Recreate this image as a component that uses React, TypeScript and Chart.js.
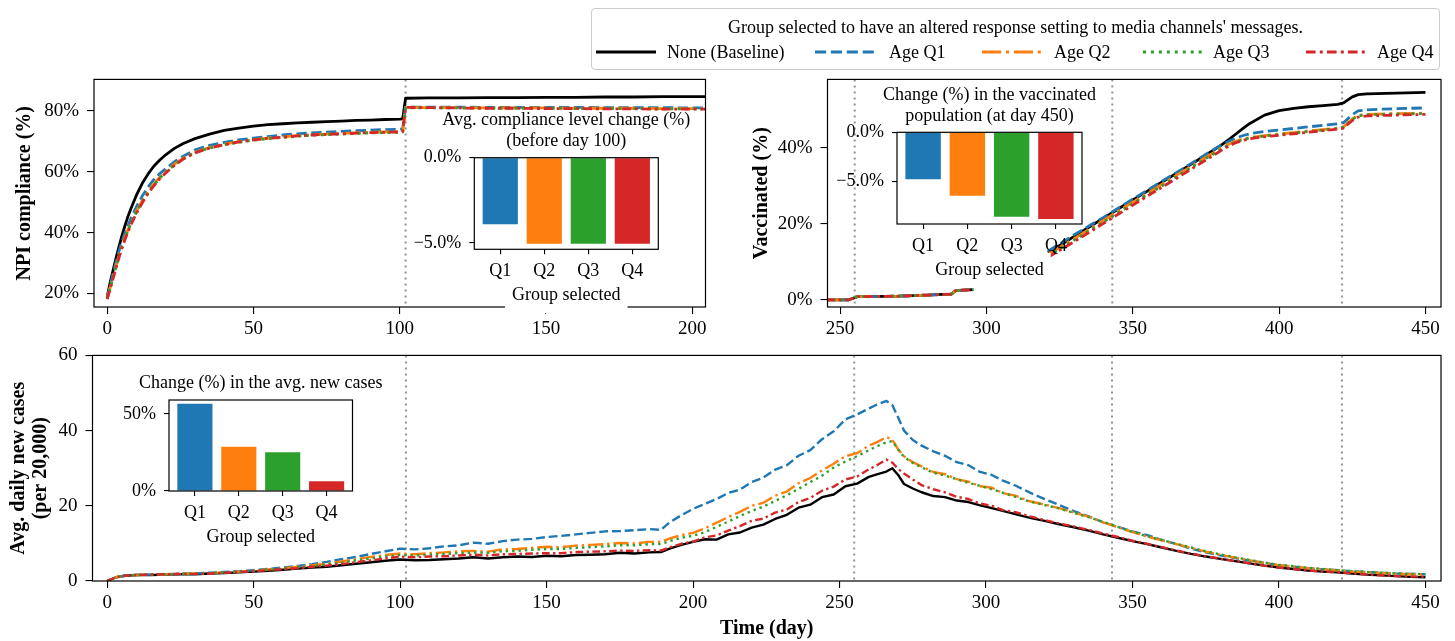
import React, { useEffect, useRef } from "react";
import { Chart, registerables } from "chart.js";

Chart.register(...registerables);

const FONT = '"Liberation Serif", "Times New Roman", Times, serif';
Chart.defaults.font.family = FONT;
Chart.defaults.color = "#000";

// ---------------- data ----------------
const SERIES_LABELS = ["None (Baseline)", "Age Q1", "Age Q2", "Age Q3", "Age Q4"];
const SERIES_COLORS = ["#000000", "#1f77b4", "#ff7f0e", "#2ca02c", "#d62728"];
const LEGEND_TITLE = "Group selected to have an altered response setting to media channels' messages.";
const PHASE_DAYS = [102, 255, 343, 421.5];

// NPI compliance (%)
const npiDays = [0, 1, 2, 3, 4, 5, 6, 7, 8, 10, 12, 14, 16, 18, 20, 23, 26, 30, 35, 40, 45, 50, 55, 60, 65, 70, 75, 80, 85, 90, 95, 100, 101, 102, 110, 120, 130, 140, 150, 160, 170, 180, 190, 200, 205];
const npiBaseline = [18.8, 23.5, 27.5, 31.5, 35.2, 38.8, 42.0, 45.0, 47.6, 52.3, 56.2, 59.3, 61.9, 63.9, 65.6, 67.7, 69.3, 70.9, 72.4, 73.6, 74.4, 75.0, 75.5, 75.8, 76.1, 76.3, 76.5, 76.7, 76.9, 77.0, 77.2, 77.3, 77.4, 84.2, 84.3, 84.3, 84.4, 84.4, 84.5, 84.5, 84.6, 84.6, 84.7, 84.7, 84.7];
const npiQ1 = [18.6, 22.5, 26.4, 30.2, 33.8, 36.9, 39.6, 42.1, 44.4, 48.5, 52.0, 55.0, 57.5, 59.4, 61.0, 63.3, 65.1, 67.2, 68.7, 69.7, 70.5, 71.1, 71.6, 72.1, 72.5, 72.8, 73.0, 73.3, 73.5, 73.7, 73.9, 74.0, 74.1, 81.3, 81.3, 81.3, 81.2, 81.2, 81.2, 81.2, 81.1, 81.1, 81.1, 81.0, 81.0];
const npiQ2 = [18.3, 21.8, 25.4, 28.9, 32.3, 35.4, 38.1, 40.7, 43.0, 47.0, 50.5, 53.5, 56.0, 58.2, 60.0, 62.5, 64.5, 66.5, 68.0, 69.1, 69.9, 70.6, 71.1, 71.5, 71.9, 72.2, 72.4, 72.6, 72.8, 73.0, 73.1, 73.2, 73.3, 81.2, 81.1, 81.1, 81.0, 81.0, 81.0, 80.9, 80.9, 80.9, 80.8, 80.8, 80.8];
const npiQ3 = [18.2, 21.6, 25.1, 28.6, 32.0, 35.1, 37.8, 40.4, 42.7, 46.7, 50.2, 53.2, 55.7, 57.9, 59.8, 62.3, 64.3, 66.3, 67.8, 68.9, 69.7, 70.4, 70.9, 71.3, 71.7, 72.0, 72.2, 72.4, 72.6, 72.8, 72.9, 73.0, 73.1, 81.0, 81.0, 81.0, 80.9, 80.9, 80.9, 80.8, 80.8, 80.8, 80.7, 80.7, 80.7];
const npiQ4 = [18.1, 21.3, 24.8, 28.2, 31.6, 34.7, 37.4, 40.0, 42.3, 46.3, 49.8, 52.9, 55.4, 57.7, 59.6, 62.1, 64.2, 66.2, 67.8, 68.9, 69.8, 70.5, 71.0, 71.4, 71.8, 72.1, 72.3, 72.5, 72.7, 72.9, 73.0, 73.1, 73.2, 81.2, 81.1, 81.0, 80.9, 80.9, 80.8, 80.8, 80.7, 80.7, 80.6, 80.6, 80.6];

// Vaccinated (%) - the stretch hidden behind the inset is left empty (null)
const vacDays = [245, 253, 254.5, 256, 260, 265, 270, 275, 280, 285, 288, 289.5, 292, 295.5, 308, 321, 325, 330, 335, 340, 345, 350, 355, 360, 365, 370, 375, 380, 383, 385, 388, 390, 395, 400, 405, 410, 415, 420, 422, 425, 427, 430, 440, 450];
const vacBaseline = [0, 0, 0.4, 0.85, 0.85, 0.9, 0.95, 1.1, 1.25, 1.4, 1.5, 2.4, 2.55, 2.65, null, 12.4, 14.3, 16.7, 19.1, 21.5, 23.9, 26.3, 28.6, 31.0, 33.3, 35.7, 38.1, 40.6, 42.3, 43.5, 45.3, 46.4, 48.6, 49.8, 50.4, 50.8, 51.1, 51.4, 51.8, 53.4, 54.0, 54.2, 54.4, 54.6];
const vacQ1 = [0, 0, 0.4, 0.85, 0.85, 0.9, 0.95, 1.1, 1.25, 1.4, 1.5, 2.4, 2.55, 2.65, null, 12.8, 14.7, 17.1, 19.4, 21.7, 24.1, 26.5, 28.8, 31.2, 33.5, 35.9, 38.3, 40.6, 41.8, 42.5, 43.3, 43.7, 44.3, 44.7, 45.1, 45.5, 45.9, 46.3, 46.6, 48.7, 49.7, 50.0, 50.3, 50.5];
const vacQ2 = [0, 0, 0.4, 0.85, 0.85, 0.9, 0.95, 1.1, 1.25, 1.4, 1.5, 2.4, 2.55, 2.65, null, 11.9, 13.8, 16.1, 18.5, 20.9, 23.3, 25.7, 28.0, 30.4, 32.8, 35.1, 37.5, 39.8, 41.0, 41.7, 42.4, 42.7, 43.2, 43.6, 44.0, 44.4, 44.8, 45.2, 45.5, 47.6, 48.5, 48.8, 49.0, 49.1];
const vacQ3 = [0, 0, 0.4, 0.85, 0.85, 0.9, 0.95, 1.1, 1.25, 1.4, 1.5, 2.4, 2.55, 2.65, null, 11.6, 13.4, 15.7, 18.1, 20.5, 22.9, 25.3, 27.7, 30.0, 32.4, 34.8, 37.2, 39.5, 40.8, 41.5, 42.2, 42.6, 43.1, 43.5, 43.9, 44.3, 44.7, 45.1, 45.4, 47.5, 48.4, 48.7, 48.9, 49.0];
const vacQ4 = [0, 0, 0.4, 0.85, 0.85, 0.9, 0.95, 1.1, 1.25, 1.4, 1.5, 2.4, 2.55, 2.65, null, 11.2, 13.0, 15.3, 17.7, 20.1, 22.5, 24.9, 27.3, 29.6, 32.0, 34.4, 36.8, 39.2, 40.5, 41.3, 42.0, 42.4, 42.9, 43.3, 43.7, 44.1, 44.5, 44.9, 45.2, 47.2, 48.1, 48.4, 48.6, 48.8];

// Avg. daily new cases (per 20,000)
const caseDays = [0, 3, 6, 10, 15, 20, 25, 30, 35, 40, 45, 50, 55, 60, 65, 70, 75, 80, 85, 90, 95, 100, 105, 110, 115, 120, 125, 130, 135, 140, 145, 150, 155, 160, 165, 170, 175, 180, 185,
  189, 192, 196,
  200, 204, 208, 212, 216, 220, 224, 228, 232, 236, 240, 244, 248, 252, 256, 260,
  263, 266, 268, 270, 272, 275, 278,
  282, 286, 290, 294, 298, 302, 306, 310,
  315, 320, 325, 330, 335, 340, 345, 350, 355, 360, 365, 370, 375, 380, 385, 390, 395, 400, 405, 410, 415, 420, 425, 430, 435, 440, 445, 450];
const caseBaseline = [0, 1.0, 1.4, 1.6, 1.6, 1.7, 1.8, 1.8, 2.0, 2.1, 2.3, 2.5, 2.7, 3.0, 3.3, 3.6, 3.8, 4.2, 4.6, 5.0, 5.4, 5.7, 5.5, 5.6, 5.8, 6.0, 6.3, 6.0, 6.3, 6.5, 6.4, 6.7, 6.6, 6.9, 7.0, 7.1, 7.5, 7.3, 7.6,
  7.7, 8.6, 9.6,
  10.4, 11.1, 11.0, 12.4, 12.9, 14.2, 15.0, 16.5, 17.6, 19.5, 20.3, 22.3, 23.0, 25.2, 25.9, 27.7,
  28.4, 29.1, 30.0, 28.2, 25.8, 24.6, 23.6,
  22.6, 22.3, 21.4, 21.0, 20.1, 19.4, 18.6, 17.8,
  16.8, 16.0, 15.1, 14.3, 13.4, 12.4, 11.5, 10.6, 9.8, 8.9, 8.0, 7.2, 6.5, 5.9, 5.3, 4.7, 4.1, 3.6, 3.2, 2.8, 2.5, 2.3, 2.0, 1.7, 1.5, 1.3, 1.1, 1.0];
const caseQ1 = [0, 1.0, 1.4, 1.6, 1.7, 1.8, 1.9, 2.0, 2.2, 2.4, 2.6, 2.9, 3.2, 3.6, 4.0, 4.5, 5.1, 5.8, 6.4, 7.2, 7.9, 8.6, 8.4, 8.7, 9.2, 9.5, 10.2, 9.9, 10.6, 11.0, 11.2, 11.7, 12.0, 12.4, 12.8, 13.2, 13.3, 13.5, 13.8,
  13.6, 15.6, 17.5,
  19.2, 20.5, 21.8, 23.4, 24.3, 26.3, 27.5, 29.6, 30.8, 33.3, 34.8, 37.7, 39.8, 43.0, 44.3, 45.9,
  47.0, 47.9, 46.8, 43.5, 40.0, 37.5, 36.0,
  34.5, 33.3, 31.6, 30.8, 29.0, 28.2, 26.6, 25.4,
  23.5, 21.8, 20.2, 18.6, 17.2, 15.6, 14.4, 13.2, 12.2, 10.9, 9.8, 8.6, 7.6, 6.8, 6.1, 5.4, 4.8, 4.2, 3.8, 3.4, 3.1, 2.9, 2.6, 2.4, 2.2, 2.0, 1.9, 1.8];
const caseQ2 = [0, 1.0, 1.4, 1.6, 1.7, 1.8, 1.9, 2.0, 2.1, 2.3, 2.5, 2.8, 3.1, 3.4, 3.8, 4.2, 4.6, 5.2, 5.8, 6.4, 6.9, 7.3, 7.1, 7.4, 7.6, 7.9, 8.0, 7.8, 8.4, 8.5, 8.8, 9.1, 9.0, 9.4, 9.6, 9.8, 10.1, 10.0, 10.4,
  10.4, 11.3, 12.2,
  12.8, 14.0, 15.5, 17.0, 18.4, 20.0, 20.8, 22.7, 23.8, 26.0, 27.4, 29.4, 31.2, 33.2, 34.0, 36.0,
  37.0, 38.3, 37.6, 35.0, 33.2, 31.6, 30.5,
  29.0, 28.4, 27.1, 26.4, 25.2, 24.8, 23.3, 22.7,
  21.2, 20.3, 19.4, 18.2, 17.1, 15.6, 14.3, 13.0, 11.8, 10.8, 9.8, 8.8, 7.8, 7.0, 6.2, 5.5, 4.8, 4.2, 3.8, 3.4, 3.1, 2.8, 2.5, 2.3, 2.1, 1.9, 1.8, 1.7];
const caseQ3 = [0, 1.0, 1.4, 1.6, 1.7, 1.8, 1.9, 2.0, 2.1, 2.3, 2.5, 2.7, 3.0, 3.3, 3.6, 4.0, 4.4, 4.9, 5.5, 6.0, 6.5, 6.9, 6.8, 7.0, 7.2, 7.4, 7.6, 7.5, 7.9, 8.0, 8.3, 8.5, 8.5, 8.8, 9.0, 9.2, 9.5, 9.5, 9.8,
  9.8, 10.6, 11.5,
  12.0, 13.0, 14.4, 15.8, 17.3, 18.6, 19.8, 21.3, 22.8, 24.5, 26.3, 28.0, 30.2, 31.8, 33.2, 34.8,
  35.9, 36.9, 37.2, 35.0, 33.0, 31.4, 30.2,
  28.8, 28.0, 27.1, 26.1, 25.3, 24.4, 23.4, 22.4,
  21.1, 20.2, 19.3, 18.1, 17.0, 15.7, 14.4, 13.1, 11.9, 10.9, 9.9, 8.9, 7.9, 7.1, 6.3, 5.6, 4.9, 4.3, 3.9, 3.5, 3.2, 2.9, 2.6, 2.4, 2.2, 2.0, 1.9, 1.8];
const caseQ4 = [0, 1.0, 1.4, 1.6, 1.7, 1.8, 1.9, 1.9, 2.0, 2.2, 2.4, 2.6, 2.9, 3.1, 3.4, 3.8, 4.1, 4.5, 5.0, 5.5, 6.0, 6.5, 6.3, 6.5, 6.6, 6.8, 7.0, 6.8, 7.1, 7.2, 7.3, 7.4, 7.4, 7.7, 7.8, 7.9, 8.1, 8.0, 8.2,
  8.1, 8.9, 9.9,
  10.5, 11.6, 12.1, 13.4, 14.6, 16.0, 16.6, 18.2, 19.0, 21.0, 22.1, 24.0, 25.1, 27.0, 27.8, 29.7,
  30.9, 32.3, 31.5, 29.8, 28.6, 27.0, 25.5,
  24.4, 23.6, 22.4, 21.8, 20.6, 20.0, 18.8, 18.3,
  17.2, 16.2, 15.3, 14.5, 13.6, 12.6, 11.7, 10.7, 9.9, 9.0, 8.1, 7.3, 6.6, 5.9, 5.3, 4.7, 4.1, 3.6, 3.2, 2.8, 2.5, 2.3, 2.0, 1.7, 1.5, 1.3, 1.2, 1.1];

// inset bars
const INSET_CATS = ["Q1", "Q2", "Q3", "Q4"];
const INSET_COLORS = ["#1f77b4", "#ff7f0e", "#2ca02c", "#d62728"];
const complianceChange = [-3.9, -5.05, -5.05, -5.05];
const vaccinatedChange = [-4.76, -6.42, -8.54, -8.77];
const casesChange = [56.6, 28.8, 25.1, 6.3];

const npiXTicks = [0, 50, 100, 150, 200];
const npiYTicks = [20, 40, 60, 80];
const vacXTicks = [250, 300, 350, 400, 450];
const vacYTicks = [0, 20, 40];
const caseXTicks = [0, 50, 100, 150, 200, 250, 300, 350, 400, 450];
const caseYTicks = [0, 20, 40, 60];

// ---------------- styles ----------------
const DASHES = [[], [3.7, 1.6], [6.4, 1.6, 1, 1.6], [1, 1.65], [3.2, 1.4, 1, 1.4]];
const MINUS = "\u2212";
const pct = (v: number) => `${v}%`;
const pct1 = (v: number) => `${v < 0 ? MINUS : ""}${Math.abs(v).toFixed(1)}%`;

const framePlugin = {
  id: "frame",
  afterDatasetsDraw(chart: any) {
    const { ctx, chartArea: a } = chart;
    ctx.save();
    ctx.strokeStyle = "#000";
    ctx.lineWidth = 1.2;
    ctx.strokeRect(a.left, a.top, a.right - a.left, a.bottom - a.top);
    ctx.restore();
  },
};

function phasePlugin(days: number[]) {
  return {
    id: "phaseLines",
    beforeDatasetsDraw(chart: any) {
      const { ctx, chartArea: a, scales } = chart;
      const xs = scales.x;
      ctx.save();
      ctx.strokeStyle = "rgba(135,135,135,0.9)";
      ctx.lineWidth = 2;
      ctx.setLineDash([2, 4]);
      days.forEach((d) => {
        if (d < xs.min || d > xs.max) return;
        const px = xs.getPixelForValue(d);
        ctx.beginPath();
        ctx.moveTo(px, a.top);
        ctx.lineTo(px, a.bottom);
        ctx.stroke();
      });
      ctx.restore();
    },
  };
}

const tickGrid = (len: number) => ({
  display: true,
  drawOnChartArea: false,
  drawTicks: true,
  tickLength: len,
  color: "#000",
  lineWidth: 1.1,
});

function LinePanel(p: any) {
  const ref = useRef<HTMLCanvasElement>(null);
  useEffect(() => {
    const c = ref.current as HTMLCanvasElement;
    const yWidth = p.plot.left - p.canvas.left;
    const xHeight = p.canvas.top + p.canvas.height - p.plot.bottom;
    const padTop = p.plot.top - p.canvas.top;
    const padRight = p.canvas.left + p.canvas.width - p.plot.right;
    const chart = new Chart(c, {
      type: "line",
      data: {
        datasets: SERIES_LABELS.map((label, i) => ({
          label,
          data: p.xs.map((x: number, j: number) => ({ x, y: p.series[i][j] })),
          borderColor: SERIES_COLORS[i],
          backgroundColor: SERIES_COLORS[i],
          borderWidth: p.lw,
          borderDash: DASHES[i].map((d) => d * p.lw),
          borderCapStyle: "butt",
          borderJoinStyle: "round",
          pointRadius: 0,
          tension: 0,
          fill: false,
          spanGaps: false,
          clip: 0,
          order: 4 - i,
        })),
      },
      options: {
        animation: false,
        responsive: false,
        events: [],
        layout: { padding: { left: 0, top: padTop, right: padRight, bottom: 0 } },
        plugins: { legend: { display: false }, tooltip: { enabled: false } },
        scales: {
          x: {
            type: "linear",
            min: p.xMin,
            max: p.xMax,
            afterBuildTicks: (s: any) => {
              s.ticks = p.xTicks.map((v: number) => ({ value: v }));
            },
            afterFit: (s: any) => {
              s.height = xHeight;
            },
            grid: tickGrid(7),
            border: { display: false },
            ticks: {
              autoSkip: false,
              maxRotation: 0,
              padding: 4,
              color: "#000",
              font: { family: FONT, size: 19 },
              callback: (v: any) => String(v),
            },
            title: p.xTitle
              ? {
                  display: true,
                  text: p.xTitle,
                  color: "#000",
                  font: { family: FONT, size: 20, weight: "bold", lineHeight: 1.2 },
                  padding: { top: 0, bottom: 0 },
                }
              : { display: false },
          },
          y: {
            type: "linear",
            min: p.yMin,
            max: p.yMax,
            afterBuildTicks: (s: any) => {
              s.ticks = p.yTicks.map((v: number) => ({ value: v }));
            },
            afterFit: (s: any) => {
              s.width = yWidth;
            },
            grid: tickGrid(7),
            border: { display: false },
            ticks: {
              autoSkip: false,
              padding: 8,
              color: "#000",
              font: { family: FONT, size: 19 },
              callback: (v: any) => p.yFmt(v),
            },
            title: {
              display: true,
              text: p.yTitle,
              color: "#000",
              font: { family: FONT, size: 20, weight: "bold", lineHeight: p.yTitleLH },
              padding: { top: p.yTitlePad, bottom: 0 },
            },
          },
        },
      } as any,
      plugins: [phasePlugin(PHASE_DAYS), framePlugin],
    } as any);
    return () => chart.destroy();
  }, []);
  return (
    <canvas
      ref={ref}
      width={p.canvas.width}
      height={p.canvas.height}
      style={{ position: "absolute", left: p.canvas.left, top: p.canvas.top, width: p.canvas.width, height: p.canvas.height }}
    />
  );
}

function insetPlugin(titleLines: string[], xlabel: string) {
  return {
    id: "insetDeco",
    beforeDraw(chart: any) {
      const { ctx, chartArea: a } = chart;
      ctx.save();
      ctx.fillStyle = "#fff";
      ctx.fillRect(a.left, a.top, a.right - a.left, a.bottom - a.top);
      ctx.font = `18px ${FONT}`;
      const w = ctx.measureText(xlabel).width;
      const cx = (a.left + a.right) / 2;
      const cy = a.bottom + 46;
      ctx.fillRect(cx - w / 2 - 7, cy - 17, w + 14, 35);
      ctx.restore();
    },
    afterDraw(chart: any) {
      const { ctx, chartArea: a } = chart;
      ctx.save();
      ctx.strokeStyle = "#000";
      ctx.lineWidth = 1.2;
      ctx.strokeRect(a.left, a.top, a.right - a.left, a.bottom - a.top);
      ctx.fillStyle = "#000";
      ctx.font = `18px ${FONT}`;
      ctx.textAlign = "center";
      ctx.textBaseline = "middle";
      const cx = (a.left + a.right) / 2;
      const n = titleLines.length;
      titleLines.forEach((t, i) => {
        ctx.fillText(t, cx, a.top - 16.5 - (n - 1 - i) * 20.5);
      });
      ctx.fillText(xlabel, cx, a.bottom + 46);
      ctx.restore();
    },
  };
}

function InsetBars(p: any) {
  const ref = useRef<HTMLCanvasElement>(null);
  const cl = Math.floor(p.box.left) - 85;
  const ct = Math.floor(p.box.top) - 60;
  const cw = Math.ceil(p.box.right) + 60 - cl;
  const ch = Math.ceil(p.box.bottom) + 75 - ct;
  useEffect(() => {
    const c = ref.current as HTMLCanvasElement;
    const yWidth = p.box.left - cl;
    const padTop = p.box.top - ct;
    const padRight = cl + cw - p.box.right;
    const xHeight = ct + ch - p.box.bottom;
    const chart = new Chart(c, {
      type: "bar",
      data: {
        datasets: [
          {
            data: p.values.map((v: number, i: number) => ({ x: i, y: v })),
            backgroundColor: INSET_COLORS,
            borderWidth: 0,
            barPercentage: 0.8,
            categoryPercentage: 1,
          },
        ],
      },
      options: {
        animation: false,
        responsive: false,
        events: [],
        layout: { padding: { left: 0, top: padTop, right: padRight, bottom: 0 } },
        plugins: { legend: { display: false }, tooltip: { enabled: false } },
        scales: {
          x: {
            type: "linear",
            min: -0.59,
            max: 3.59,
            offset: false,
            afterBuildTicks: (s: any) => {
              s.ticks = INSET_CATS.map((_, i) => ({ value: i }));
            },
            afterFit: (s: any) => {
              s.height = xHeight;
            },
            grid: { ...tickGrid(5), offset: false },
            border: { display: false },
            ticks: {
              autoSkip: false,
              maxRotation: 0,
              padding: 6,
              color: "#000",
              font: { family: FONT, size: 18 },
              callback: (v: any) => INSET_CATS[Math.round(v)] ?? "",
            },
          },
          y: {
            type: "linear",
            min: p.yMin,
            max: p.yMax,
            afterBuildTicks: (s: any) => {
              s.ticks = p.yTicks.map((v: number) => ({ value: v }));
            },
            afterFit: (s: any) => {
              s.width = yWidth;
            },
            grid: tickGrid(5),
            border: { display: false },
            ticks: {
              autoSkip: false,
              padding: 8,
              color: "#000",
              font: { family: FONT, size: 18 },
              callback: (v: any) => p.yFmt(v),
            },
          },
        },
      } as any,
      plugins: [insetPlugin(p.title, "Group selected")],
    } as any);
    return () => chart.destroy();
  }, []);
  return (
    <canvas ref={ref} width={cw} height={ch} style={{ position: "absolute", left: cl, top: ct, width: cw, height: ch }} />
  );
}

const LEGEND_POS = [
  { x: 4, tx: 75 },
  { x: 223, tx: 297 },
  { x: 390, tx: 462 },
  { x: 551, tx: 621 },
  { x: 714, tx: 785 },
];
const LEGEND_DASH = ["", "11.1 4.8", "19.2 4.8 3 4.8", "3 4.95", "9.6 4.2 3 4.2"];

function Legend() {
  return (
    <div
      style={{
        position: "absolute",
        left: 591,
        top: 8,
        width: 849,
        height: 62,
        boxSizing: "border-box",
        border: "1px solid #cccccc",
        borderRadius: 4,
        background: "#fff",
        fontFamily: FONT,
        fontSize: 18,
        color: "#000",
      }}
    >
      <div style={{ position: "absolute", left: 0, right: 0, top: 7, lineHeight: "22px", textAlign: "center", whiteSpace: "nowrap" }}>
        {LEGEND_TITLE}
      </div>
      <svg width={847} height={60} style={{ position: "absolute", left: 0, top: 0 }}>
        {SERIES_LABELS.map((l, i) => (
          <line
            key={l}
            x1={LEGEND_POS[i].x}
            x2={LEGEND_POS[i].x + 60}
            y1={43}
            y2={43}
            stroke={SERIES_COLORS[i]}
            strokeWidth={3}
            strokeDasharray={LEGEND_DASH[i] || undefined}
          />
        ))}
      </svg>
      {SERIES_LABELS.map((l, i) => (
        <span key={l} style={{ position: "absolute", left: LEGEND_POS[i].tx, top: 32, lineHeight: "22px", whiteSpace: "nowrap" }}>
          {l}
        </span>
      ))}
    </div>
  );
}

export default function App() {
  return (
    <div style={{ position: "fixed", left: 0, top: 0, width: 1455, height: 641, overflow: "hidden", background: "#fff" }}>
      <LinePanel
        canvas={{ left: 0, top: 60, width: 716, height: 290 }}
        plot={{ left: 94, top: 78, right: 705.5, bottom: 307 }}
        xs={npiDays}
        series={[npiBaseline, npiQ1, npiQ2, npiQ3, npiQ4]}
        xMin={-4.5}
        xMax={204.5}
        xTicks={npiXTicks}
        yMin={15.5}
        yMax={90.4}
        yTicks={npiYTicks}
        yFmt={pct}
        yTitle="NPI compliance (%)"
        yTitlePad={13}
        yTitleLH={1.2}
        lw={2.8}
      />
      <LinePanel
        canvas={{ left: 725, top: 60, width: 726, height: 290 }}
        plot={{ left: 827.5, top: 78, right: 1441, bottom: 307 }}
        xs={vacDays}
        series={[vacBaseline, vacQ1, vacQ2, vacQ3, vacQ4]}
        xMin={245.7}
        xMax={455.3}
        xTicks={vacXTicks}
        yMin={-1.9}
        yMax={58}
        yTicks={vacYTicks}
        yFmt={pct}
        yTitle="Vaccinated (%)"
        yTitlePad={25}
        yTitleLH={1.2}
        lw={2.8}
      />
      <LinePanel
        canvas={{ left: 0, top: 336, width: 1451, height: 305 }}
        plot={{ left: 92.5, top: 354, right: 1441, bottom: 581 }}
        xs={caseDays}
        series={[caseBaseline, caseQ1, caseQ2, caseQ3, caseQ4]}
        xMin={-5}
        xMax={455.3}
        xTicks={caseXTicks}
        yMin={0}
        yMax={60}
        yTicks={caseYTicks}
        yFmt={(v: number) => String(v)}
        yTitle={["Avg. daily new cases", "(per 20,000)"]}
        yTitlePad={8}
        yTitleLH={1.1}
        xTitle="Time (day)"
        lw={2.4}
      />
      <InsetBars
        box={{ left: 474.3, top: 157.7, right: 658.3, bottom: 249.3 }}
        values={complianceChange}
        yMin={-5.37}
        yMax={0}
        yTicks={[-5, 0]}
        yFmt={pct1}
        title={["Avg. compliance level change (%)", "(before day 100)"]}
      />
      <InsetBars
        box={{ left: 897, top: 132.3, right: 1082, bottom: 224 }}
        values={vaccinatedChange}
        yMin={-9.28}
        yMax={0}
        yTicks={[-5, 0]}
        yFmt={pct1}
        title={["Change (%) in the vaccinated", "population (at day 450)"]}
      />
      <InsetBars
        box={{ left: 169, top: 400, right: 352.5, bottom: 491 }}
        values={casesChange}
        yMin={0}
        yMax={59.1}
        yTicks={[0, 50]}
        yFmt={pct}
        title={["Change (%) in the avg. new cases"]}
      />
      <Legend />
    </div>
  );
}
